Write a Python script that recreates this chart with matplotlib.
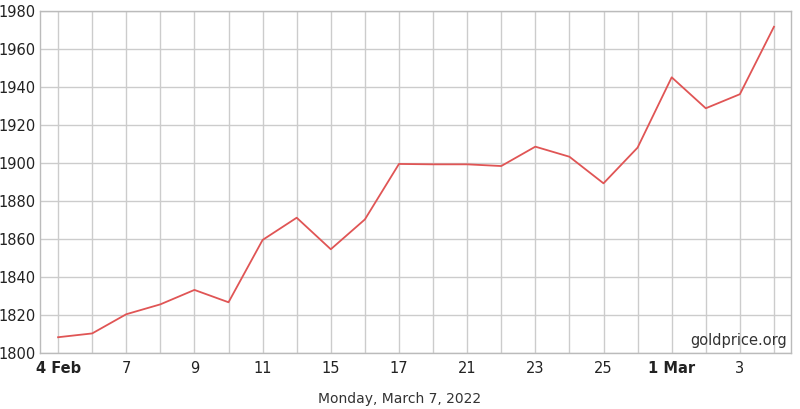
import matplotlib
matplotlib.use("Agg")
import matplotlib.pyplot as plt

dates = ["4 Feb", "6", "7", "8", "9", "10", "11", "14", "15", "16", "17",
         "18", "21", "22", "23", "24", "25", "28", "1 Mar", "2", "3", "4"]
prices = [1808.3, 1810.3, 1820.4, 1825.6, 1833.2, 1826.7, 1859.5, 1871.2,
          1854.6, 1870.3, 1899.5, 1899.3, 1899.3, 1898.4, 1908.6, 1903.3,
          1889.3, 1908.1, 1945.1, 1928.8, 1936.2, 1971.7]
labeled = ["4 Feb", "7", "9", "11", "15", "17", "21", "23", "25", "1 Mar", "3"]
bold_labels = ["4 Feb", "1 Mar"]
yticks = [1800, 1820, 1840, 1860, 1880, 1900, 1920, 1940, 1960, 1980]
footer = "Monday, March 7, 2022"
watermark = "goldprice.org"

plt.rcParams['font.family'] = ['DejaVu Sans']
fig = plt.figure(figsize=(8.0, 4.09), dpi=100)
ax = fig.add_axes([40/800, 1 - 353/409, (791-40)/800, (353-11)/409])

x = list(range(len(dates)))
ax.plot(x, prices, color='#e05555', lw=1.3, zorder=3)

ax.set_xlim(-0.53, len(dates) - 0.5)
ax.set_ylim(yticks[0], yticks[-1])
ax.set_xticks(x, minor=False)
ax.set_xticklabels([d if d in labeled else "" for d in dates])
for lbl in ax.get_xticklabels():
    if lbl.get_text() in bold_labels:
        lbl.set_fontweight('bold')
ax.set_yticks(yticks)
ax.tick_params(axis='both', length=0, labelsize=10.5, colors='#222222')
ax.tick_params(axis='x', pad=6)
ax.tick_params(axis='y', pad=3)
ax.grid(True, color='#cccccc', lw=1.0)
ax.set_axisbelow(True)
for s in ax.spines.values():
    s.set_color('#bbbbbb')
    s.set_linewidth(1.0)

ax.text(0.995, 0.015, watermark, transform=ax.transAxes, ha='right', va='bottom',
        fontsize=10.5, color='#333333')
fig.text(400/800, 1 - 399/409, footer, ha='center', va='center',
         fontsize=10, color='#333333')

fig.savefig('out.png', dpi=100)
